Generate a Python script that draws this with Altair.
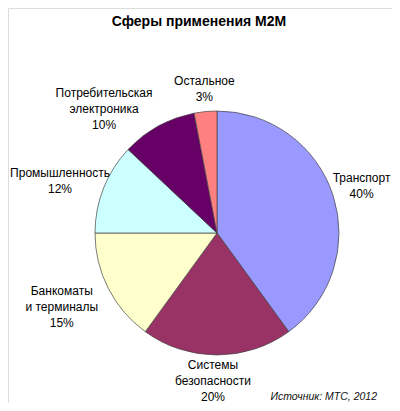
import altair as alt
import pandas as pd

categories = ["Транспорт", "Системы безопасности", "Банкоматы и терминалы",
              "Промышленность", "Потребительская электроника", "Остальное"]
label_names = ["Транспорт", "Системы\nбезопасности", "Банкоматы\nи терминалы",
               "Промышленность", "Потребительская\nэлектроника", "Остальное"]
values = [40, 20, 15, 12, 10, 3]
colors = ["#9999FF", "#993366", "#FFFFCC", "#CCFFFF", "#660066", "#FF8080"]
title_text = "Сферы применения M2M"
source_text = "Источник: МТС, 2012"

df = pd.DataFrame({
    "cat": categories,
    "value": values,
    "order": list(range(len(categories))),
    "label": [f"{n}\n{v}%" for n, v in zip(label_names, values)],
})

# layout: label radius and nudges (like Excel's label placement)
label_layout = {
    "Транспорт": (152, 0, -8),
    "Системы безопасности": (151, -4, -19),
    "Банкоматы и терминалы": (172, -2, -20),
    "Промышленность": (171, 2, 3),
    "Потребительская электроника": (168, -32, 7),
    "Остальное": (145, 1, -8),
}

CX, CY = 209, 225
FONT = "Liberation Sans"

base = alt.Chart(df).encode(
    theta=alt.Theta("value:Q", stack=True),
    order=alt.Order("order:Q", sort="ascending"),
)

pie = base.mark_arc(outerRadius=122, stroke="#444444", strokeWidth=0.7).encode(
    x=alt.value(CX), y=alt.value(CY),
    color=alt.Color("cat:N", scale=alt.Scale(domain=categories, range=colors), legend=None),
)

label_layers = []
for cat in categories:
    r, ddx, ddy = label_layout[cat]
    label_layers.append(
        base.mark_text(radius=r, dx=ddx, dy=ddy, font=FONT, fontSize=12, lineBreak="\n",
                       lineHeight=16, color="#000000", baseline="middle", align="center")
        .encode(x=alt.value(CX), y=alt.value(CY), text="label:N",
                opacity=alt.condition(alt.datum.cat == cat, alt.value(1), alt.value(0)))
    )

title = alt.Chart(pd.DataFrame({"t": [title_text]})).mark_text(
    font=FONT, fontSize=14, fontWeight="bold", color="#000000", align="center", baseline="middle"
).encode(x=alt.value(191), y=alt.value(14), text="t:N")

source = alt.Chart(pd.DataFrame({"t": [source_text]})).mark_text(
    font=FONT, fontSize=10.5, fontStyle="italic", color="#111111", align="right", baseline="middle"
).encode(x=alt.value(369), y=alt.value(389), text="t:N")

chart = alt.layer(pie, *label_layers, title, source).properties(
    width=384, height=395, padding=0, autosize=alt.AutoSizeParams(type="none")
).configure_view(stroke=None).configure(background="#FFFFFF")

chart.save("out.html", embed_options={"renderer": "svg", "actions": False})
